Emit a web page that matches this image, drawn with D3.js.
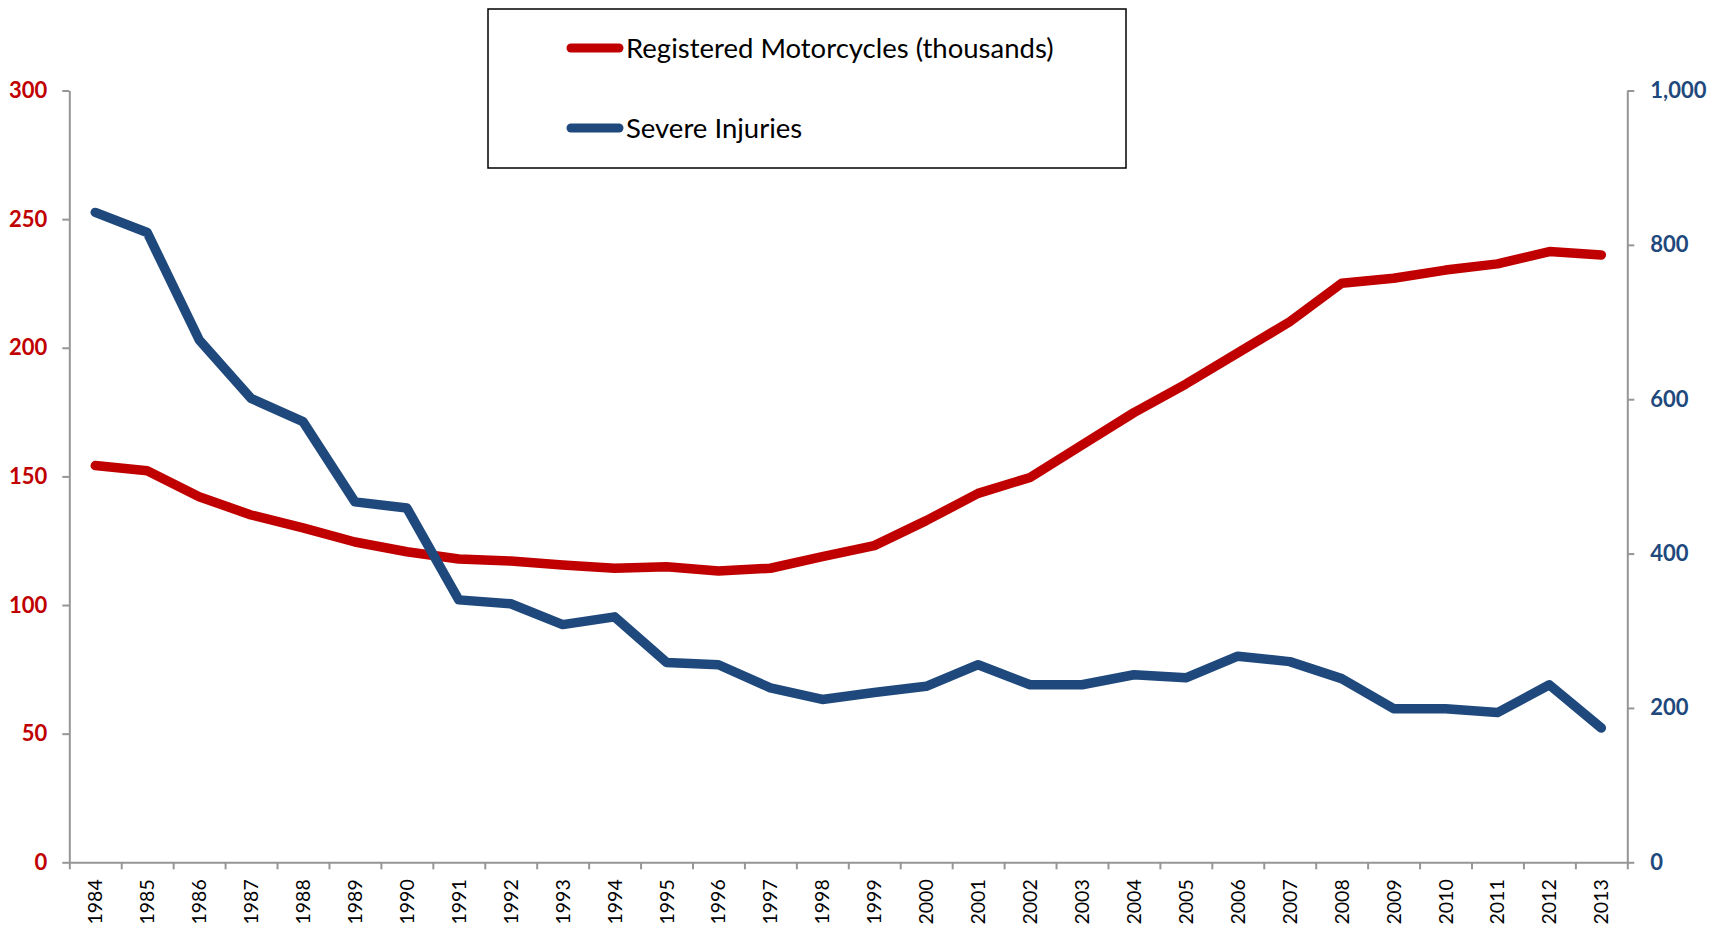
<!DOCTYPE html>
<html>
<head>
<meta charset="utf-8">
<script src="https://cdn.jsdelivr.net/npm/d3@7"></script>
<style>
  body { margin: 0; background: #fff; }
  svg { display: block; font-family: Lato, "Open Sans", sans-serif; }
</style>
</head>
<body>
<div id="chart"></div>
<script>
// motorcycles vs severe injuries, two y axes
var years = ["1984","1985","1986","1987","1988","1989","1990","1991","1992","1993",
  "1994","1995","1996","1997","1998","1999","2000","2001","2002","2003",
  "2004","2005","2006","2007","2008","2009","2010","2011","2012","2013"];

// left axis, thousands
var motorcycles = [154.2, 152.2, 142.1, 135.0, 130.0, 124.5, 120.7, 117.9, 117.1, 115.6,
  114.3, 114.9, 113.2, 114.3, 118.8, 123.1, 132.8, 143.4, 149.6, 162.2,
  174.8, 185.9, 198.0, 210.1, 225.1, 227.0, 230.2, 232.6, 237.4, 236.1];

// right axis
var injuries = [842, 816, 677, 601, 571, 467, 459, 340, 335, 308,
  318, 259, 256, 226, 211, 220, 228, 256, 230, 230,
  243, 239, 267, 260, 238, 199, 199, 194, 230, 174];

var leftTicks = [0, 50, 100, 150, 200, 250, 300];
var rightTicks = [0, 200, 400, 600, 800, 1000];

var seriesNames = ["Registered Motorcycles (thousands)", "Severe Injuries"];
var red = "#C00000";
var blue = "#1F497D";

var svgWidth = 1723;
var svgHeight = 928;
var margin = { top: 90.5, right: 1723 - 1627.3, bottom: 928 - 862.3, left: 69.3 };
var width = svgWidth - margin.left - margin.right;
var height = svgHeight - margin.top - margin.bottom;

var svg = d3.select("#chart").append("svg")
  .attr("width", svgWidth)
  .attr("height", svgHeight);

var chartGroup = svg.append("g")
  .attr("transform", `translate(${margin.left}, ${margin.top})`);

var x = d3.scaleBand().domain(years).range([0, width]).padding(0);
var xEdge = d3.scaleLinear().domain([0, years.length]).range([0, width]);
var yLeft = d3.scaleLinear().domain([0, 300]).range([height, 0]);
var yRight = d3.scaleLinear().domain([0, 1000]).range([height, 0]);

// x axis: ticks between categories, labels at centres
var xTicks = chartGroup.append("g")
  .attr("transform", `translate(0, ${height})`)
  .call(d3.axisBottom(xEdge).tickValues(d3.range(years.length + 1)).tickFormat("").tickSize(7).tickSizeOuter(0));

var xLabels = chartGroup.append("g")
  .attr("transform", `translate(0, ${height})`)
  .call(d3.axisBottom(x).tickSize(0).tickSizeOuter(0));
xLabels.select(".domain").remove();
xLabels.selectAll("text")
  .attr("transform", "rotate(-90)")
  .attr("text-anchor", "end")
  .attr("x", -17)
  .attr("y", 0)
  .attr("dy", "0.36em")
  .attr("font-family", "Lato, sans-serif")
  .attr("font-size", "19.5px")
  .attr("fill", "#000");

var leftAxis = chartGroup.append("g")
  .call(d3.axisLeft(yLeft).tickValues(leftTicks).tickSize(7).tickSizeOuter(0).tickPadding(15));
leftAxis.selectAll("text")
  .attr("font-family", "Lato, sans-serif")
  .attr("font-weight", "bold")
  .attr("font-size", "22px")
  .attr("fill", red);

var rightAxis = chartGroup.append("g")
  .attr("transform", `translate(${width}, 0)`)
  .call(d3.axisRight(yRight).tickValues(rightTicks).tickFormat(d3.format(",")).tickSize(7).tickSizeOuter(0).tickPadding(16));
rightAxis.selectAll("text")
  .attr("font-family", "Lato, sans-serif")
  .attr("font-weight", "bold")
  .attr("font-size", "22px")
  .attr("fill", blue);

// gray axis lines like excel
svg.selectAll(".domain, .tick line")
  .attr("stroke", "#969696")
  .attr("stroke-width", 2);

// the lines
var lineLeft = d3.line()
  .x((d, i) => x(years[i]) + x.bandwidth() / 2)
  .y(d => yLeft(d));
var lineRight = d3.line()
  .x((d, i) => x(years[i]) + x.bandwidth() / 2)
  .y(d => yRight(d));

chartGroup.append("path")
  .datum(motorcycles)
  .attr("d", lineLeft)
  .attr("fill", "none")
  .attr("stroke", red)
  .attr("stroke-width", 9.5)
  .attr("stroke-linecap", "round")
  .attr("stroke-linejoin", "round");

chartGroup.append("path")
  .datum(injuries)
  .attr("d", lineRight)
  .attr("fill", "none")
  .attr("stroke", blue)
  .attr("stroke-width", 9.5)
  .attr("stroke-linecap", "round")
  .attr("stroke-linejoin", "round");

// legend box
var legend = svg.append("g");
legend.append("rect")
  .attr("x", 488)
  .attr("y", 9)
  .attr("width", 638)
  .attr("height", 159)
  .attr("fill", "#fff")
  .attr("stroke", "#000")
  .attr("stroke-width", 1.5);

var legendRows = [
  { name: seriesNames[0], color: red, y: 48 },
  { name: seriesNames[1], color: blue, y: 128 }
];
legendRows.forEach(function(r) {
  legend.append("line")
    .attr("x1", 571).attr("x2", 619)
    .attr("y1", r.y).attr("y2", r.y)
    .attr("stroke", r.color)
    .attr("stroke-width", 9)
    .attr("stroke-linecap", "round");
  legend.append("text")
    .attr("x", 626)
    .attr("y", r.y)
    .attr("dy", "0.35em")
    .attr("font-family", "Lato, sans-serif")
    .attr("font-size", "27.5px")
    .attr("fill", "#000")
    .text(r.name);
});
</script>
</body>
</html>
